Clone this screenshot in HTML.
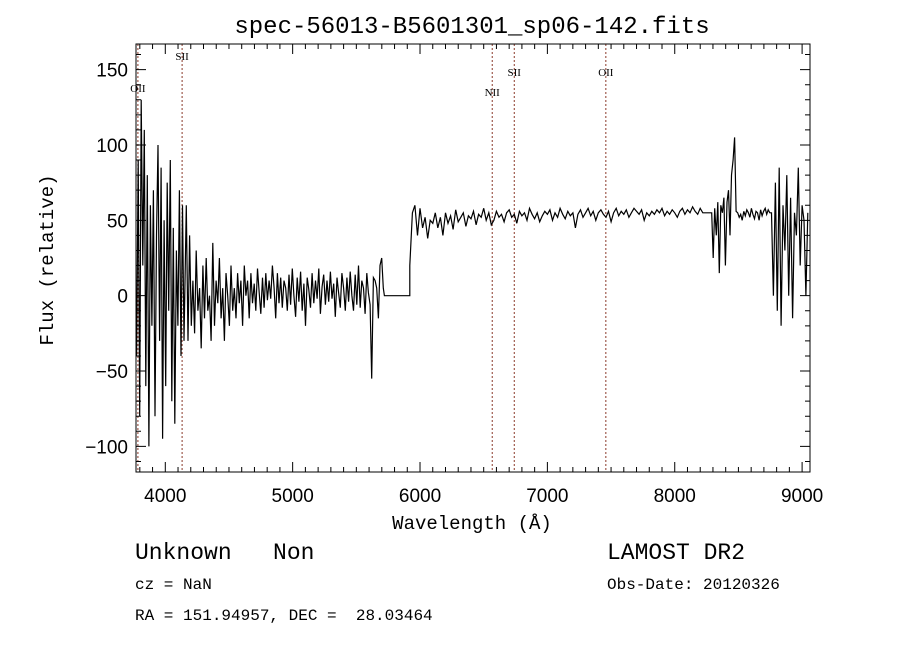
<!DOCTYPE html>
<html><head><meta charset="utf-8"><style>
body{margin:0;background:#fff;}
svg{display:block;font-family:"Liberation Sans",sans-serif;}
text{white-space:pre;}
</style></head><body>
<svg id="chart" width="900" height="649" viewBox="0 0 900 649">
<rect width="900" height="649" fill="#fff"/>
<text x="472" y="33" font-size="24" text-anchor="middle" font-family="Liberation Mono, monospace">spec-56013-B5601301_sp06-142.fits</text>
<g id="lines"></g>
<g id="axes"></g>
<path id="spec" fill="none" stroke="#000" stroke-width="1.2"/>
<rect x="136" y="44" width="674" height="428" fill="none" stroke="#000" stroke-width="1"/>
<text x="472" y="529" font-size="19" text-anchor="middle" font-family="Liberation Mono, monospace">Wavelength (Å)</text>
<text x="0" y="0" font-size="19" text-anchor="middle" font-family="Liberation Mono, monospace" transform="translate(53,260) rotate(-90)">Flux (relative)</text>
<text x="135" y="559" font-size="23" font-family="Liberation Mono, monospace" xml:space="preserve">Unknown   Non</text>
<text x="135" y="589" font-size="16" font-family="Liberation Mono, monospace">cz = NaN</text>
<text x="135" y="620" font-size="16" font-family="Liberation Mono, monospace" xml:space="preserve">RA = 151.94957, DEC =  28.03464</text>
<text x="607" y="559" font-size="23" font-family="Liberation Mono, monospace">LAMOST DR2</text>
<text x="607" y="589" font-size="16" font-family="Liberation Mono, monospace">Obs-Date: 20120326</text>
</svg>
<script>
const xTicks=[4000,5000,6000,7000,8000,9000];
const yTicks=[-100,-50,0,50,100,150];
const lineNames=["OII","SII","NII","SII","OII"];
const lineWaves=[3785,4132,6567,6740,7459];
const lineLabelY=[92,60,96,76,76];
const seg1Start=3775, seg1Step=12;
const seg1Flux=[-40,90,-80,130,20,110,-60,80,-100,60,-20,70,-80,40,100,-30,85,-95,50,-60,75,-10,90,-70,45,-85,30,-20,70,-40,60,-30];
const seg2Start=4165, seg2Step=13;
const seg2Flux=[60,-30,40,-20,10,-25,30,-10,5,-35,20,-15,25,-10,0,-30,35,-20,10,-5,25,-15,5,-30,15,0,-20,20,-10,5,-15,15,-5,10,-20,20,0,10,-15,15,-5,8,-10,18,2,-12,12,-8,15,-3,10,-2,20,5,-15,15,-5,12,-8,10,5,-10,14,-6,18,0,-14,12,-4,16,-10,8,-20,12,4,-8,15,-5,10,-2,18,-12,6,14,-6,10,-4,16,-2,8,-14,12,2,-8,15,5,-10,12,-4,16,0,-10,14,-6,20,-8,10,5,-12,15,2,-6,-55,12,10,5,-15,20,25,5];
const seg3Start=5720, seg3Step=40;
const seg3Flux=[0,0,0,0,0,0];
const seg4Start=5920, seg4Step=20;
const seg4Flux=[20,55,60,40,58,45,52,38,50,48,55,45,52,40,55,48,53,44,57,49,52,55,46,53,51,56,47,54,52,58,50,55,47,50,56,52,54,49,55,57,52,54,48,56,53,55,50,58,54,51,55,49,53,56,54,57,50,55,52,58,54,51,56,53,55,45,54,57,52,55,58,53,56,50,55,57,54,52,56,49,55,58,53,56,54,57,52,55,58,56,54,57,50,55,53,56,54,57,55,58,53,56,54,57,55,52,56,58,54,57,55,59,56,54,58,55];
const seg5Start=8290, seg5Step=12;
const seg5Flux=[55,25,58,40,62,15,60,55,65,20,62,70,40,80,90,105,56,55,52,54,50,56,53,57,55,52,58,54,51,56,55,50,57,53,56,58,54,57,55];
const seg6Start=8760, seg6Step=15;
const seg6Flux=[55,0,75,-10,85,-20,60,30,80,0,65,-15,55,40,85,20,60,50,0,55];
const xMin=3770, xMax=9062, yMin=-117, yMax=167;
const L=136,R=810,T=44,B=472;
function xs(w){return L+(w-xMin)/(xMax-xMin)*(R-L);}
function ys(v){return B-(v-yMin)/(yMax-yMin)*(B-T);}
const NS="http://www.w3.org/2000/svg";
function mk(tag,attrs,parent){const e=document.createElementNS(NS,tag);for(const k in attrs)e.setAttribute(k,attrs[k]);parent.appendChild(e);return e;}
const axes=document.getElementById('axes');
for(let w=3800;w<=9000;w+=100){
  const major=w%1000===0;const len=major?10:5;const x=xs(w);
  const t=mk('path',{d:`M${x},${B}V${B-len}M${x},${T}V${T+len}`,stroke:'#000','stroke-width':1},axes);
  
  
}
xTicks.forEach(w=>{
  const t=mk('text',{x:xs(w),y:B+30,'font-size':19,'text-anchor':'middle'},axes);t.textContent=w;
  
  
});
for(let v=-110;v<=160;v+=10){
  const major=v%50===0;const len=major?10:5;const y=ys(v);
  const t=mk('path',{d:`M${L},${y}H${L+len}M${R},${y}H${R-len}`,stroke:'#000','stroke-width':1},axes);
  
  
}
yTicks.forEach(v=>{
  const t=mk('text',{x:L-8,y:ys(v)+7,'font-size':19,'text-anchor':'end'},axes);t.textContent=(v<0?'\u2212'+(-v):v);
  
  
});
const lg=document.getElementById('lines');
lineWaves.forEach((w,i)=>{
  const ln=mk('line',{x1:xs(w),x2:xs(w),y1:T,y2:B,stroke:'#8b3a2a','stroke-width':1,'stroke-dasharray':'2,2'},lg);
  
  
  const tx=mk('text',{x:xs(w),y:lineLabelY[i],'font-size':11,'text-anchor':'middle','font-family':'Liberation Serif, serif'},lg);tx.textContent=lineNames[i];
  
  
});
const segs=[[seg1Start,seg1Step,seg1Flux],[seg2Start,seg2Step,seg2Flux],[seg3Start,seg3Step,seg3Flux],[seg4Start,seg4Step,seg4Flux],[seg5Start,seg5Step,seg5Flux],[seg6Start,seg6Step,seg6Flux]];
let d='';
segs.forEach(([s,st,f])=>{f.forEach((v,i)=>{const w=Math.min(s+i*st,xMax);d+=(d?'L':'M')+xs(w).toFixed(1)+','+ys(Math.max(yMin,Math.min(yMax,v))).toFixed(1);});});
document.getElementById('spec').setAttribute('d',d);
</script>
</body></html>
